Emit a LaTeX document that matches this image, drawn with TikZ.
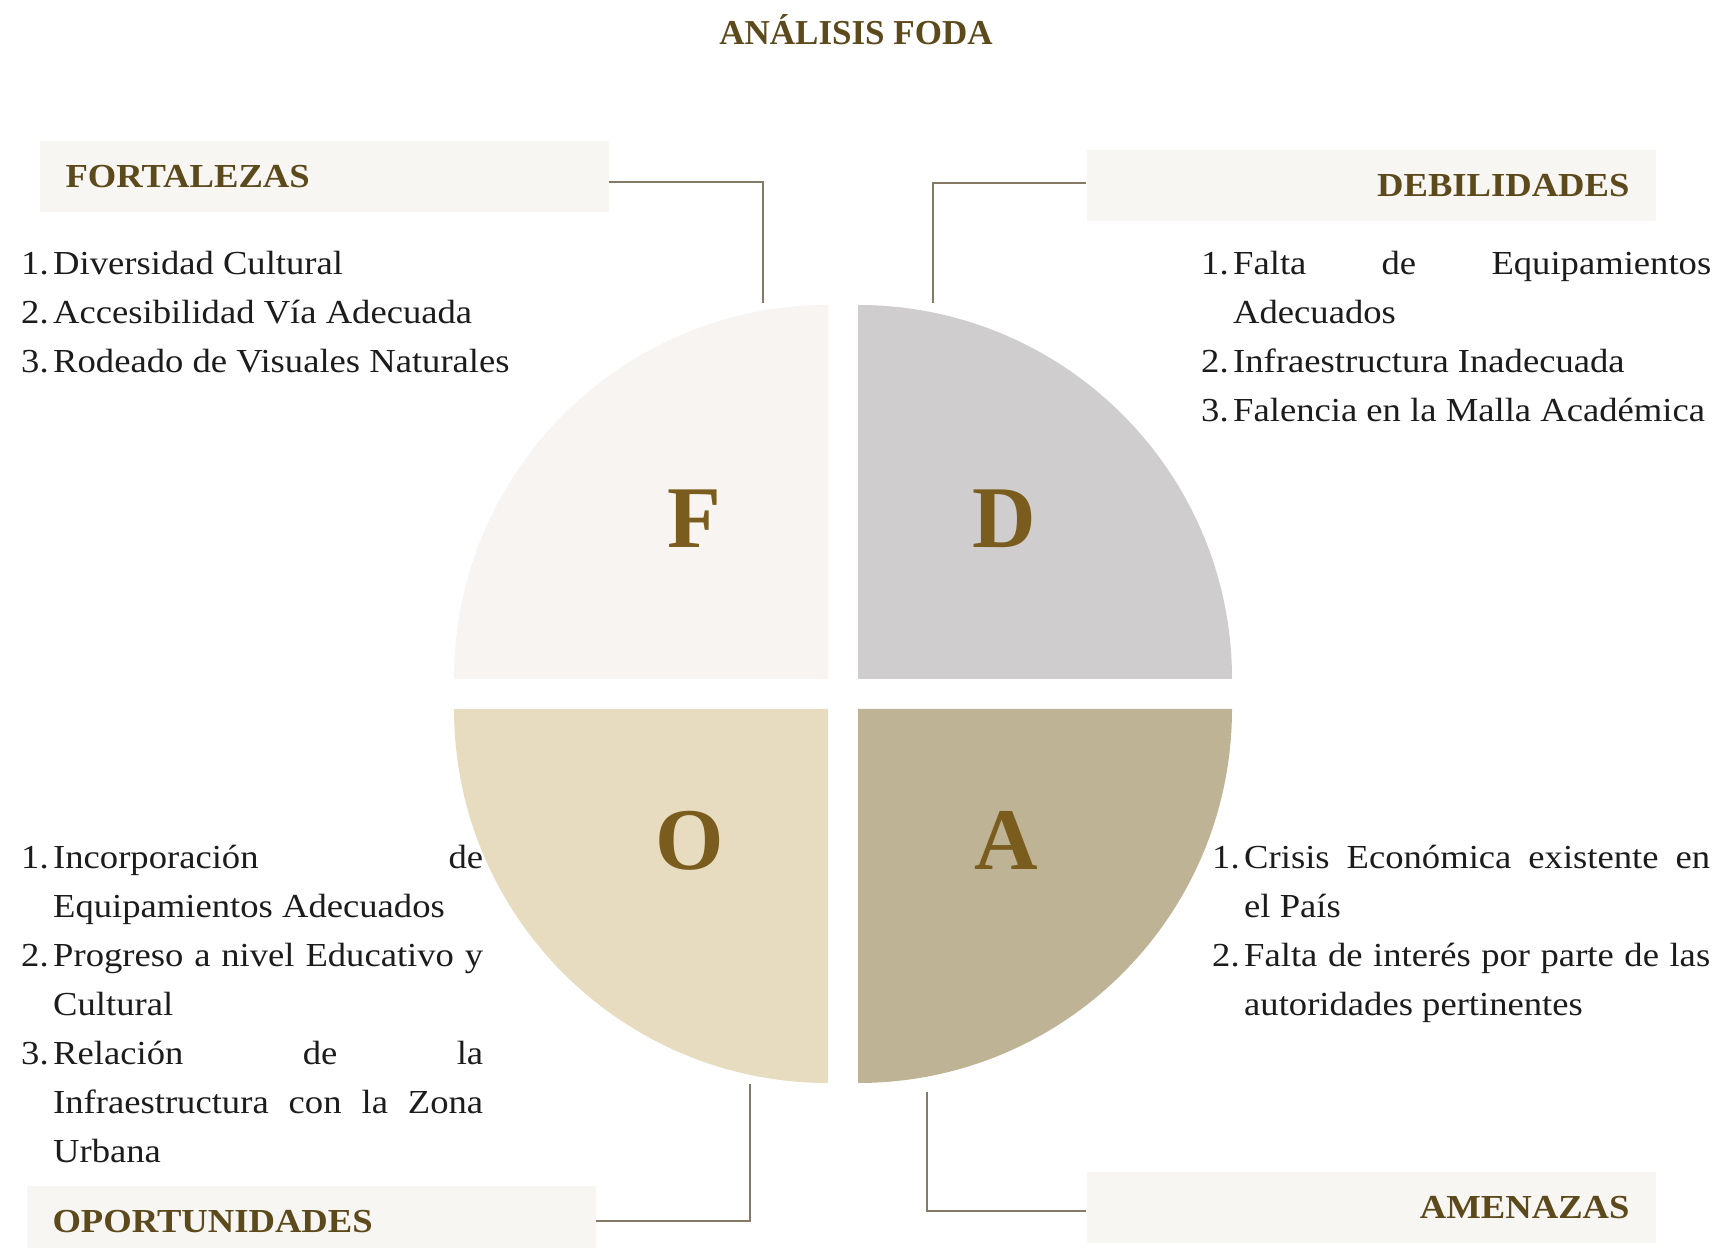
\documentclass[tikz,border=0pt]{standalone}
\usepackage{fontspec}
\setmainfont{Liberation Serif}
\newfontfamily\bodyfont{Liberation Serif}[FakeStretch=1.09]
\newfontfamily\headfont{Liberation Serif}[FakeStretch=1.09]
\usepackage{enumitem}
\usetikzlibrary{positioning}

\definecolor{fortfill}{HTML}{F7F4F1}
\definecolor{debfill}{HTML}{CFCDCD}
\definecolor{opofill}{HTML}{E8DCC0}
\definecolor{amefill}{HTML}{BFB396}
\definecolor{boxfill}{HTML}{F8F6F3}
\definecolor{gold}{HTML}{7A5C1E}
\definecolor{olive}{HTML}{5C4A1C}
\definecolor{linkcol}{HTML}{867A66}
\definecolor{ink}{HTML}{1C1C1C}

\newlist{fodalist}{enumerate}{1}
\setlist[fodalist]{label=\arabic*., leftmargin=32pt, labelwidth=32pt, labelsep=0pt,
  align=left, itemsep=0pt, parsep=0pt, topsep=0pt, partopsep=0pt}
\hyphenpenalty=10000
\hbadness=10000

\begin{document}
\begin{tikzpicture}[x=1pt,y=1pt,
  headbox/.style={fill=boxfill,text width=517pt,inner xsep=26pt,inner ysep=0pt,minimum height=71pt,
    font={\headfont\bfseries\fontsize{33.6}{40}\selectfont},text=olive},
  items/.style={anchor=base west,inner sep=0pt,align=justify,text=ink,
    font={\bodyfont\fontsize{33.6}{49}\selectfont}},
  letter/.style={anchor=base,inner sep=0pt,text=gold,font={\bfseries\fontsize{88}{90}\selectfont}},
  link/.style={draw=linkcol,line width=2pt}]
  \useasboundingbox (0,0) rectangle (1717,1248);
  \fill[white] (0,0) rectangle (1717,1248);
  % title
  \node[anchor=base,inner sep=0pt,text=olive,font={\bfseries\fontsize{35}{40}\selectfont}] (title) at (856,1203) {ANÁLISIS FODA};
  % quarters of the circle
  \fill[fortfill] (828,569) -- (454,569) arc[start angle=180,end angle=90,radius=374] -- cycle;
  \fill[debfill] (858,569) -- (858,943) arc[start angle=90,end angle=0,radius=374] -- cycle;
  \fill[opofill] (828,539) -- (454,539) arc[start angle=180,end angle=270,radius=374] -- cycle;
  \fill[amefill] (858,539) -- (1232,539) arc[start angle=0,end angle=-90,radius=374] -- cycle;
  \node[letter] (lf) at (694,700) {F};
  \node[letter] (ld) at (1004,700) {D};
  \node[letter] (lo) at (690,378) {O};
  \node[letter] (la) at (1006,378) {A};
  % headings
  \node[headbox,align=left] (fort) at (324,1071) {FORTALEZAS};
  \node[headbox,align=right] (deb) at (1371,1062) {DEBILIDADES};
  \node[headbox,align=left] (opo) at (311,26) {OPORTUNIDADES};
  \node[headbox,align=right] (ame) at (1371,40) {AMENAZAS};
  % lists
  \node[items,text width=520pt] (fortlist) at (21,1022) {%
    \begin{fodalist}
      \item Diversidad Cultural
      \item Accesibilidad Vía Adecuada
      \item Rodeado de Visuales Naturales
    \end{fodalist}};
  \node[items,text width=510pt] (deblist) at (1201,1022) {%
    \begin{fodalist}
      \item Falta de Equipamientos\linebreak Adecuados
      \item Infraestructura Inadecuada
      \item Falencia en la Malla Académica
    \end{fodalist}};
  \node[items,text width=462pt] (opolist) at (21,428) {%
    \begin{fodalist}
      \item Incorporación de\linebreak Equipamientos Adecuados
      \item Progreso a nivel Educativo y\linebreak Cultural
      \item Relación de la\linebreak Infraestructura con la Zona\linebreak Urbana
    \end{fodalist}};
  \node[items,text width=498pt] (amelist) at (1212,428) {%
    \begin{fodalist}
      \item Crisis Económica existente en\linebreak el País
      \item Falta de interés por parte de las\linebreak autoridades pertinentes
    \end{fodalist}};
  % connectors
  \coordinate (fortbend) at (763,1066);
  \coordinate (fortend) at (763,945);
  \coordinate (debbend) at (933,1065);
  \coordinate (debend) at (933,945);
  \coordinate (opobend) at (750,27);
  \coordinate (opoend) at (750,164);
  \coordinate (amebend) at (927,37);
  \coordinate (ameend) at (927,156);
  \draw[link] (fortbend -| fort.east) -- (fortbend) -- (fortend);
  \draw[link] (debbend -| deb.west) -- (debbend) -- (debend);
  \draw[link] (opobend -| opo.east) -- (opobend) -- (opoend);
  \draw[link] (amebend -| ame.west) -- (amebend) -- (ameend);
\end{tikzpicture}
\end{document}
